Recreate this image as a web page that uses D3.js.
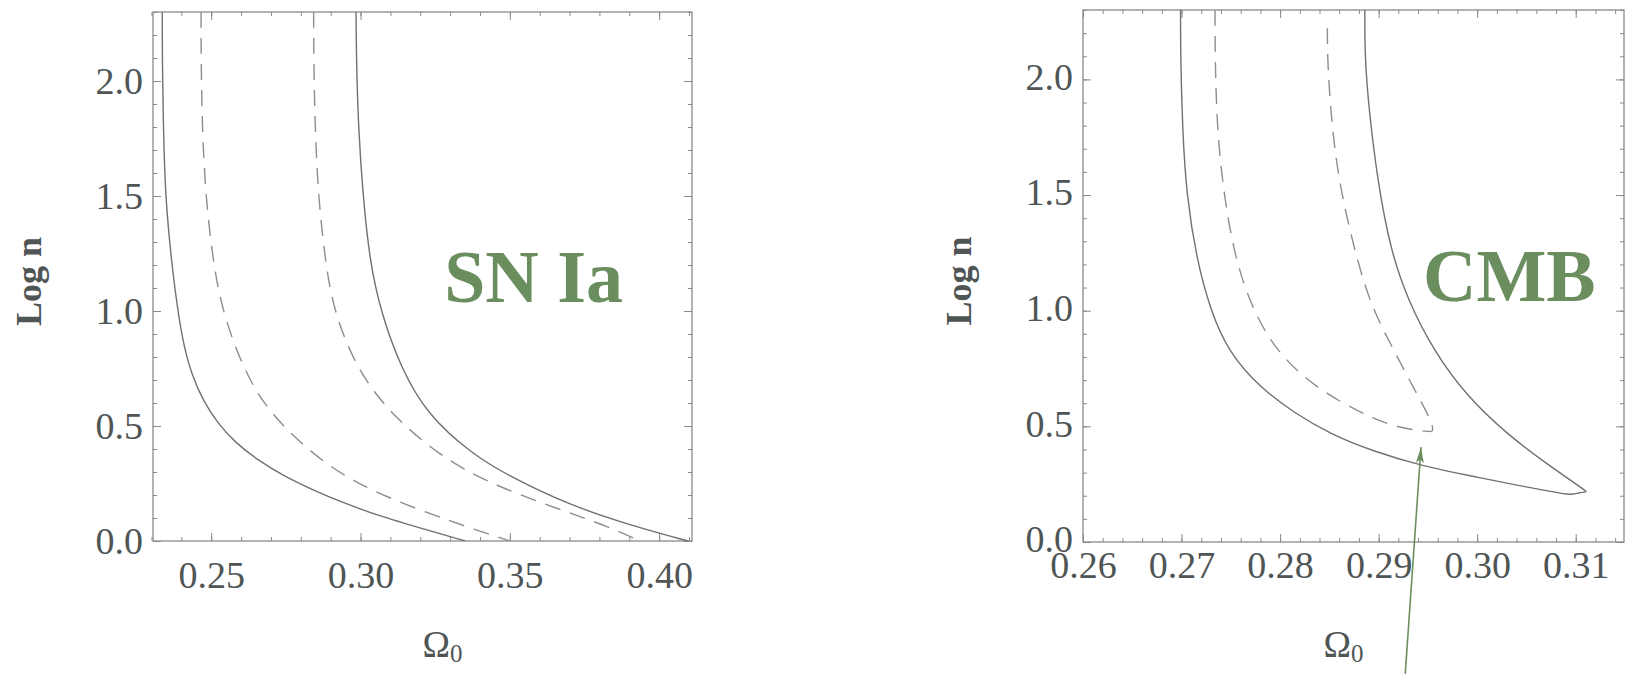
<!DOCTYPE html>
<html>
<head>
<meta charset="utf-8">
<script src="https://cdn.jsdelivr.net/npm/d3@7"></script>
<style>
  html, body { margin: 0; padding: 0; background: #fff; }
  svg { display: block; }
</style>
</head>
<body>
<svg id="chart" width="1631" height="674"></svg>
<script>
// ---- SN Ia constraints: contours in the (Omega_0, log n) plane ----
const snXTicks = [0.25, 0.30, 0.35, 0.40];
const snXMinor = d3.range(0.23, 0.4101, 0.01);
const snYTicks = [0.0, 0.5, 1.0, 1.5, 2.0];
const snYMinor = d3.range(0, 2.301, 0.1);

// outer (solid) contour, left edge
const snOuterLeft = [
  [0.2336, 2.30], [0.2336, 2.10], [0.2340, 1.788], [0.2346, 1.506], [0.2366, 1.224],
  [0.2388, 0.999], [0.2408, 0.849], [0.2436, 0.717], [0.2475, 0.605], [0.2522, 0.511],
  [0.2582, 0.426], [0.2657, 0.351], [0.2739, 0.285], [0.2843, 0.220], [0.2948, 0.163],
  [0.3067, 0.107], [0.3202, 0.056], [0.3351, 0.000]
];
// inner (dashed) contour, left edge
const snInnerLeft = [
  [0.2466, 2.30], [0.2466, 2.10], [0.2470, 1.788], [0.2481, 1.506], [0.2505, 1.224],
  [0.2537, 0.999], [0.2605, 0.755], [0.2687, 0.567], [0.2836, 0.379], [0.2985, 0.248],
  [0.3194, 0.135], [0.3403, 0.041], [0.3500, 0.000]
];
// inner (dashed) contour, right edge
const snInnerRight = [
  [0.2843, 2.30], [0.2843, 2.10], [0.2848, 1.788], [0.2858, 1.506], [0.2881, 1.224],
  [0.2910, 0.999], [0.2985, 0.755], [0.3090, 0.567], [0.3254, 0.379], [0.3433, 0.248],
  [0.3672, 0.135], [0.3836, 0.060], [0.3935, 0.000]
];
// outer (solid) contour, right edge
const snOuterRight = [
  [0.2985, 2.30], [0.2986, 2.10], [0.2993, 1.788], [0.3008, 1.506], [0.3030, 1.224],
  [0.3067, 0.999], [0.3134, 0.755], [0.3224, 0.548], [0.3373, 0.379], [0.3493, 0.285],
  [0.3702, 0.154], [0.3925, 0.060], [0.4097, 0.000]
];

// ---- CMB constraints ----
const cmbXTicks = [0.26, 0.27, 0.28, 0.29, 0.30, 0.31];
const cmbXMinor = d3.range(0.26, 0.3149, 0.002);
const cmbYTicks = [0.0, 0.5, 1.0, 1.5, 2.0];
const cmbYMinor = d3.range(0, 2.301, 0.1);

// outer (solid) contour: down the left edge, round the tip, back up the right edge
const cmbOuter = [
  [0.2699, 2.30], [0.2699, 2.10], [0.2701, 1.78], [0.2705, 1.50], [0.2715, 1.23],
  [0.2729, 1.004], [0.2748, 0.819], [0.2779, 0.670], [0.2814, 0.559], [0.2851, 0.467],
  [0.2894, 0.393], [0.2944, 0.328], [0.2998, 0.282], [0.3053, 0.235], [0.3089, 0.207],
  [0.3096, 0.205], [0.3103, 0.212], [0.3111, 0.217], [0.3111, 0.219],
  [0.3071, 0.337], [0.3030, 0.467], [0.2989, 0.633], [0.2957, 0.819], [0.2930, 1.041],
  [0.2912, 1.263], [0.2899, 1.559], [0.2890, 1.874], [0.2886, 2.10], [0.2886, 2.30]
];
// inner (dashed) contour
const cmbInner = [
  [0.2734, 2.30], [0.2734, 2.10], [0.2736, 1.78], [0.2743, 1.50], [0.2754, 1.23],
  [0.2772, 1.004], [0.2797, 0.819], [0.2835, 0.670], [0.2881, 0.559], [0.2917, 0.494],
  [0.2953, 0.476], [0.2955, 0.478],
  [0.2955, 0.513], [0.2935, 0.670], [0.2912, 0.856], [0.2890, 1.041], [0.2872, 1.319],
  [0.2858, 1.596], [0.2851, 1.874], [0.2848, 2.10], [0.2848, 2.226]
];
// annotation arrow pointing at the lower end of the inner contour
const cmbArrow = [[0.2927, -0.57], [0.2943, 0.41]];

const snLabel = { text: "SN Ia", x: 0.328, y: 1.04 };
const cmbLabel = { text: "CMB", x: 0.2945, y: 1.04 };

const AXIS_COL = "#8a8a8a";
const TEXT_COL = "#4f5555";
const SOLID_COL = "#6e736c";
const DASH_COL = "#8c8f8a";
const GREEN = "#6b8e5f";
const SERIF = "'Liberation Serif', 'DejaVu Serif', serif";

const svg = d3.select("#chart");
svg.append("rect").attr("width", 1631).attr("height", 674).attr("fill", "#fff");

svg.append("defs").append("marker")
  .attr("id", "arrowhead")
  .attr("viewBox", "0 0 16 8")
  .attr("refX", 16).attr("refY", 4)
  .attr("markerWidth", 16).attr("markerHeight", 8)
  .attr("markerUnits", "userSpaceOnUse")
  .attr("orient", "auto")
  .append("path")
  .attr("d", "M0,0 L16,4 L0,8 L4,4 Z")
  .attr("fill", GREEN);

function drawPanel(cfg) {
  const x = d3.scaleLinear().domain(cfg.xDomain).range([cfg.left, cfg.right]);
  const y = d3.scaleLinear().domain([0, 2.3]).range([cfg.bottom, cfg.top]);
  const g = svg.append("g");

  const styleAxis = sel => {
    sel.select(".domain").remove();
    sel.selectAll(".tick line").attr("stroke", AXIS_COL).attr("stroke-width", 1);
    sel.selectAll(".tick text")
      .attr("fill", TEXT_COL)
      .attr("font-size", 38)
      .attr("font-family", SERIF);
  };

  // minor ticks on all four sides
  const minor = [
    [d3.axisBottom(x).tickValues(cfg.xMinor), 0, cfg.bottom],
    [d3.axisTop(x).tickValues(cfg.xMinor), 0, cfg.top],
    [d3.axisLeft(y).tickValues(cfg.yMinor), cfg.left, 0],
    [d3.axisRight(y).tickValues(cfg.yMinor), cfg.right, 0]
  ];
  minor.forEach(([ax, tx, ty]) => {
    g.append("g").attr("transform", `translate(${tx},${ty})`)
      .call(ax.tickSize(-4).tickFormat(""))
      .call(styleAxis);
  });

  // major ticks; labels only bottom and left
  g.append("g").attr("transform", `translate(0,${cfg.bottom})`)
    .call(d3.axisBottom(x).tickValues(cfg.xTicks).tickSize(-8)
      .tickPadding(cfg.xPad).tickFormat(d3.format(".2f")))
    .call(styleAxis);
  g.append("g").attr("transform", `translate(0,${cfg.top})`)
    .call(d3.axisTop(x).tickValues(cfg.xTicks).tickSize(-8).tickFormat(""))
    .call(styleAxis);
  g.append("g").attr("transform", `translate(${cfg.left},0)`)
    .call(d3.axisLeft(y).tickValues(cfg.yTicks).tickSize(-8)
      .tickPadding(10).tickFormat(d3.format(".1f")))
    .call(styleAxis)
    .call(sel => sel.selectAll(".tick text").attr("dy", cfg.yLabelDy));
  g.append("g").attr("transform", `translate(${cfg.right},0)`)
    .call(d3.axisRight(y).tickValues(cfg.yTicks).tickSize(-8).tickFormat(""))
    .call(styleAxis);

  // frame
  g.append("rect")
    .attr("x", cfg.left).attr("y", cfg.top)
    .attr("width", cfg.right - cfg.left).attr("height", cfg.bottom - cfg.top)
    .attr("fill", "none").attr("stroke", AXIS_COL).attr("stroke-width", 1.3);

  // contours (smoothed through the traced points)
  const line = d3.line()
    .x(d => x(d[0])).y(d => y(d[1]))
    .curve(d3.curveBasis);
  const clipId = "clip-" + cfg.id;
  g.append("clipPath").attr("id", clipId).append("rect")
    .attr("x", cfg.left).attr("y", cfg.top)
    .attr("width", cfg.right - cfg.left).attr("height", cfg.bottom - cfg.top);
  const curves = g.append("g").attr("clip-path", `url(#${clipId})`);
  cfg.solid.forEach(pts => {
    curves.append("path").attr("d", line(pts))
      .attr("fill", "none").attr("stroke", SOLID_COL).attr("stroke-width", 1.4);
  });
  cfg.dashed.forEach(pts => {
    curves.append("path").attr("d", line(pts))
      .attr("fill", "none").attr("stroke", DASH_COL).attr("stroke-width", 1.4)
      .attr("stroke-dasharray", "16,10");
  });

  // panel label
  g.append("text")
    .attr("x", x(cfg.label.x)).attr("y", y(cfg.label.y))
    .attr("font-family", SERIF).attr("font-weight", "bold")
    .attr("font-size", 74).attr("fill", GREEN)
    .text(cfg.label.text);

  // axis titles
  g.append("text")
    .attr("transform", `translate(${cfg.left - 112},${(cfg.top + cfg.bottom) / 2 + 5}) rotate(-90)`)
    .attr("text-anchor", "middle")
    .attr("font-family", SERIF).attr("font-weight", "bold")
    .attr("font-size", 36).attr("fill", TEXT_COL)
    .text("Log n");
  const om = g.append("text")
    .attr("x", (cfg.left + cfg.right) / 2 + cfg.omegaShift).attr("y", cfg.omegaY)
    .attr("text-anchor", "middle")
    .attr("font-family", SERIF).attr("font-size", 37).attr("fill", TEXT_COL);
  om.append("tspan").text("Ω");
  om.append("tspan").attr("font-size", 25).attr("dy", 5).text("0");

  return { x, y, g };
}

drawPanel({
  id: "sn", left: 153, right: 692, top: 12, bottom: 541,
  xDomain: [0.2305, 0.4110], xTicks: snXTicks, xMinor: snXMinor,
  yTicks: snYTicks, yMinor: snYMinor, xPad: 20, yLabelDy: "0.32em",
  solid: [snOuterLeft, snOuterRight], dashed: [snInnerLeft, snInnerRight],
  label: snLabel, omegaShift: 20, omegaY: 657
});

const cmb = drawPanel({
  id: "cmb", left: 1083, right: 1624, top: 10, bottom: 542,
  xDomain: [0.26, 0.3149], xTicks: cmbXTicks, xMinor: cmbXMinor,
  yTicks: cmbYTicks, yMinor: cmbYMinor, xPad: 9, yLabelDy: "0.26em",
  solid: [cmbOuter], dashed: [cmbInner],
  label: cmbLabel, omegaShift: -10, omegaY: 657
});

cmb.g.append("line")
  .attr("x1", cmb.x(cmbArrow[0][0])).attr("y1", cmb.y(cmbArrow[0][1]))
  .attr("x2", cmb.x(cmbArrow[1][0])).attr("y2", cmb.y(cmbArrow[1][1]))
  .attr("stroke", GREEN).attr("stroke-width", 1.6)
  .attr("marker-end", "url(#arrowhead)");
</script>
</body>
</html>
